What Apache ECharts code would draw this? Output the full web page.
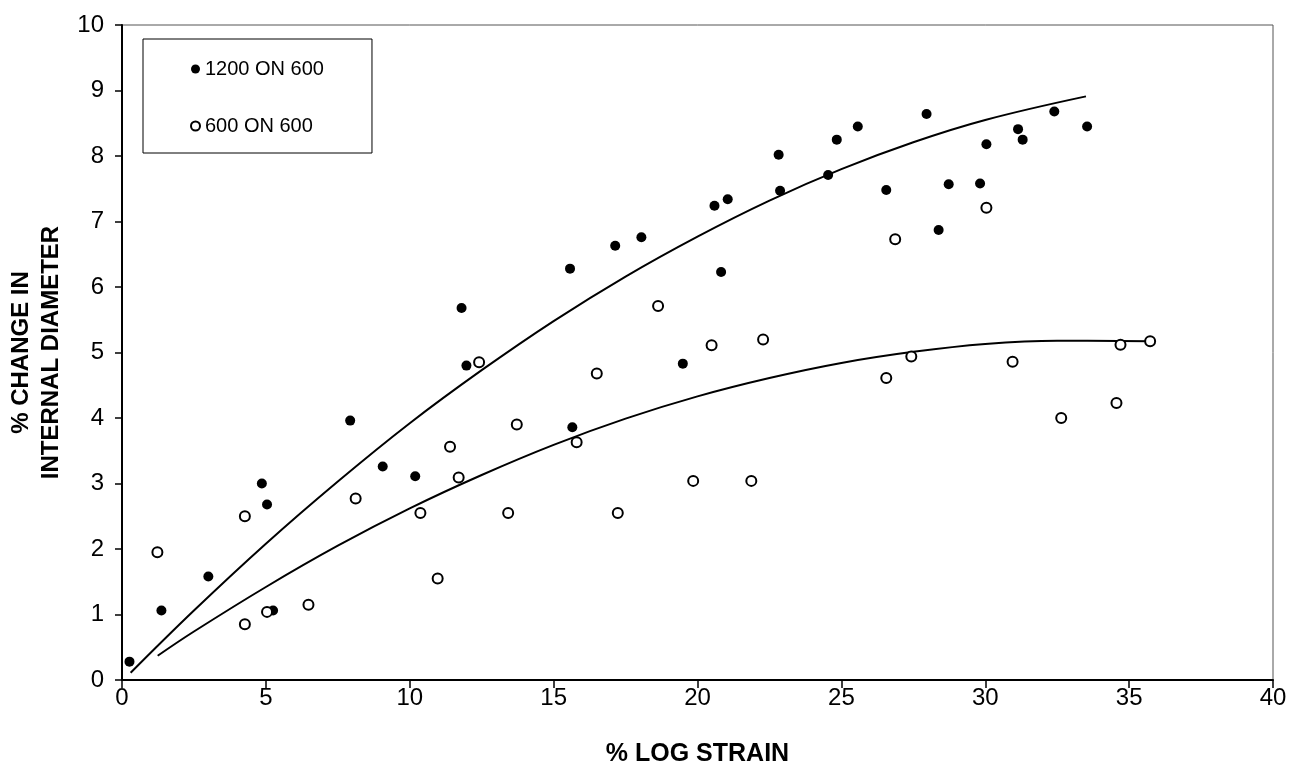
<!DOCTYPE html>
<html>
<head>
<meta charset="utf-8">
<script src="https://cdn.jsdelivr.net/npm/echarts@6/dist/echarts.min.js"></script>
<style>
  html, body { margin: 0; padding: 0; background: #fff; }
  #chart { width: 1293px; height: 767px; }
</style>
</head>
<body>
<div id="chart"></div>
<script>
// Measured points: [% log strain, % change in internal diameter]
const series1200on600 = [
  [0.26, 0.28], [1.37, 1.06], [3.0, 1.58], [4.86, 3.0], [5.04, 2.68], [5.25, 1.06],
  [7.93, 3.96], [9.06, 3.26], [10.19, 3.11], [11.8, 5.68], [11.97, 4.8], [15.57, 6.28],
  [15.65, 3.86], [17.14, 6.63], [18.05, 6.76], [19.49, 4.83], [20.59, 7.24], [20.82, 6.23],
  [21.05, 7.34], [22.82, 8.02], [22.87, 7.47], [24.54, 7.71], [24.84, 8.25], [25.57, 8.45],
  [26.56, 7.48], [27.96, 8.64], [28.38, 6.87], [28.73, 7.57], [29.82, 7.58], [30.04, 8.18],
  [31.14, 8.41], [31.30, 8.25], [32.40, 8.68], [33.54, 8.45]
];
const series600on600 = [
  [1.23, 1.95], [4.27, 2.50], [4.27, 0.85], [5.04, 1.04], [6.48, 1.15], [8.12, 2.77],
  [10.37, 2.55], [10.97, 1.55], [11.40, 3.56], [11.70, 3.09], [12.41, 4.85], [13.42, 2.55],
  [13.72, 3.90], [15.80, 3.63], [16.50, 4.68], [17.23, 2.55], [18.63, 5.71], [19.85, 3.04],
  [20.49, 5.11], [21.87, 3.04], [22.28, 5.20], [26.56, 4.61], [26.87, 6.73], [27.43, 4.94],
  [30.04, 7.21], [30.95, 4.86], [32.64, 4.00], [34.56, 4.23], [34.70, 5.12], [35.73, 5.17]
];
// Trend curves traced along each group
const trend1200 = [
  [0.3, 0.11], [2.5, 1.06], [5, 2.08], [7.5, 3.03], [10, 3.92], [12.5, 4.73], [15, 5.48],
  [17.5, 6.16], [20, 6.77], [22.5, 7.32], [25, 7.80], [27.5, 8.21], [30, 8.55], [33.5, 8.91]
];
const trend600 = [
  [1.24, 0.37], [2.5, 0.74], [5, 1.42], [7.5, 2.05], [10, 2.62], [12.5, 3.13], [15, 3.59],
  [17.5, 3.99], [20, 4.33], [22.5, 4.61], [25, 4.84], [27.5, 5.01], [30, 5.13], [32.5, 5.18],
  [35.73, 5.17]
];
const seriesNames = ['1200 ON 600', '600 ON 600'];
const xTitle = '% LOG STRAIN';
const yTitle = '% CHANGE IN\nINTERNAL DIAMETER';

const FONT = '"Liberation Sans", Arial, sans-serif';
const chart = echarts.init(document.getElementById('chart'), null, { renderer: 'canvas' });

chart.setOption({
  animation: false,
  backgroundColor: '#fff',
  grid: {
    left: 122, right: 20, top: 25, bottom: 87,
    containLabel: false, outerBoundsMode: 'none',
    show: true, borderColor: '#555', borderWidth: 1, backgroundColor: 'transparent'
  },
  legend: {
    data: seriesNames,
    orient: 'vertical',
    left: 143, top: 39,
    padding: [20, 48, 17, 47],
    itemWidth: 9, itemHeight: 9, itemGap: 37,
    borderColor: '#000', borderWidth: 1,
    backgroundColor: '#fff',
    textStyle: { fontFamily: FONT, fontSize: 20, color: '#000' }
  },
  xAxis: {
    type: 'value', min: 0, max: 40, interval: 5,
    name: xTitle, nameLocation: 'middle', nameGap: 62,
    nameTextStyle: { fontFamily: FONT, fontSize: 25, fontWeight: 'bold', color: '#000' },
    axisLine: { show: true, onZero: false, lineStyle: { color: '#000', width: 2 } },
    axisTick: { show: true, inside: false, length: 8, lineStyle: { color: '#000', width: 1.5 } },
    axisLabel: { margin: 6, fontFamily: FONT, fontSize: 24, color: '#000' },
    splitLine: { show: false }
  },
  yAxis: {
    type: 'value', min: 0, max: 10, interval: 1,
    name: yTitle, nameLocation: 'middle', nameGap: 51, nameRotate: 90,
    nameTextStyle: { fontFamily: FONT, fontSize: 24, fontWeight: 'bold', color: '#000', lineHeight: 30, align: 'center' },
    axisLine: { show: true, onZero: false, lineStyle: { color: '#000', width: 2 } },
    axisTick: { show: true, inside: false, length: 7, lineStyle: { color: '#000', width: 1.5 } },
    axisLabel: { margin: 18, fontFamily: FONT, fontSize: 24, color: '#000' },
    splitLine: { show: false }
  },
  series: [
    {
      name: '1200 trend', type: 'line', data: trend1200, smooth: 0.4,
      showSymbol: false, symbol: 'none', silent: true,
      lineStyle: { color: '#000', width: 2 }, z: 2
    },
    {
      name: '600 trend', type: 'line', data: trend600, smooth: 0.4,
      showSymbol: false, symbol: 'none', silent: true,
      lineStyle: { color: '#000', width: 2 }, z: 2
    },
    {
      name: seriesNames[0], type: 'scatter', data: series1200on600,
      symbol: 'circle', symbolSize: 10,
      itemStyle: { color: '#000', borderColor: '#000', borderWidth: 0, opacity: 1 }, z: 3
    },
    {
      name: seriesNames[1], type: 'scatter', data: series600on600,
      symbol: 'circle', symbolSize: 10,
      itemStyle: { color: '#fff', borderColor: '#000', borderWidth: 2, opacity: 1 }, z: 3
    }
  ]
});
</script>
</body>
</html>
